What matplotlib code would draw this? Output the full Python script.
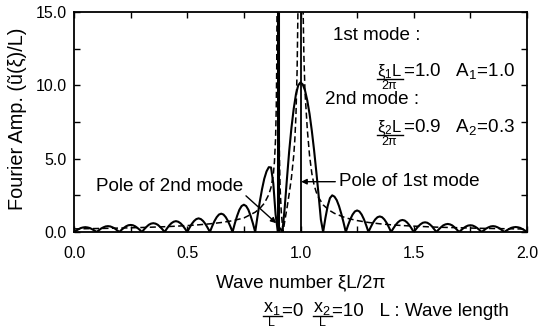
import numpy as np
import matplotlib
matplotlib.use("Agg")
import matplotlib.pyplot as plt
from matplotlib.ticker import MultipleLocator
from matplotlib.lines import Line2D

plt.rcParams['font.family'] = ['Liberation Sans', 'DejaVu Sans']
plt.rcParams['mathtext.fontset'] = 'custom'
plt.rcParams['mathtext.rm'] = 'Liberation Sans'
plt.rcParams['mathtext.it'] = 'Liberation Sans'
plt.rcParams['mathtext.bf'] = 'Liberation Sans:bold'

# ---------------- data ----------------
# solid curve: Fourier amplitude sampled every 0.01 in xi L / 2pi
solid_x = np.round(np.arange(0, 201) * 0.01, 2)
solid_y = [
    0.00, 0.10, 0.19, 0.27, 0.31, 0.33, 0.31, 0.27, 0.19, 0.10,
    0.00, 0.12, 0.24, 0.32, 0.38, 0.40, 0.38, 0.32, 0.24, 0.12,
    0.00, 0.15, 0.28, 0.39, 0.46, 0.48, 0.46, 0.39, 0.28, 0.15,
    0.00, 0.19, 0.35, 0.49, 0.57, 0.60, 0.57, 0.49, 0.35, 0.19,
    0.00, 0.23, 0.44, 0.60, 0.70, 0.74, 0.70, 0.60, 0.44, 0.23,
    0.00, 0.29, 0.55, 0.75, 0.88, 0.93, 0.88, 0.75, 0.55, 0.29,
    0.00, 0.39, 0.74, 1.01, 1.19, 1.25, 1.19, 1.01, 0.74, 0.39,
    0.00, 0.58, 1.09, 1.51, 1.77, 1.86, 1.77, 1.51, 1.09, 0.58,
    0.00, 1.05, 2.04, 2.91, 3.63, 4.13, 4.42, 4.40, 3.30, 1.20,
    0.00, 0.25, 0.00, 1.60, 3.60, 5.50, 7.10, 8.40, 9.40, 10.00,
    10.20, 10.06, 9.65, 8.96, 8.05, 6.90, 5.57, 4.08, 2.50, 0.84,
    0.00, 0.96, 1.77, 2.31, 2.50, 2.41, 2.17, 1.77, 1.25, 0.65,
    0.00, 0.46, 0.87, 1.19, 1.40, 1.47, 1.40, 1.19, 0.87, 0.46,
    0.00, 0.33, 0.63, 0.86, 1.01, 1.06, 1.01, 0.86, 0.63, 0.33,
    0.00, 0.25, 0.48, 0.66, 0.78, 0.82, 0.78, 0.66, 0.48, 0.25,
    0.00, 0.20, 0.39, 0.53, 0.63, 0.66, 0.63, 0.53, 0.39, 0.20,
    0.00, 0.17, 0.32, 0.45, 0.52, 0.55, 0.52, 0.45, 0.32, 0.17,
    0.00, 0.14, 0.27, 0.37, 0.44, 0.46, 0.44, 0.37, 0.27, 0.14,
    0.00, 0.12, 0.24, 0.32, 0.38, 0.40, 0.38, 0.32, 0.24, 0.12,
    0.00, 0.11, 0.20, 0.28, 0.32, 0.34, 0.32, 0.28, 0.20, 0.11,
    0.00,
]

# dashed curve (pole model)
dashed_x = [
    0.00, 0.05, 0.10, 0.15, 0.20, 0.25, 0.30, 0.35, 0.40, 0.45,
    0.50, 0.55, 0.60, 0.65, 0.70, 0.75, 0.80, 0.82, 0.84, 0.86,
    0.87, 0.88, 0.885, 0.89, 0.893, 0.895, 0.897,
    0.902, 0.903, 0.904, 0.905, 0.907, 0.91, 0.915, 0.92, 0.923,
    0.925, 0.93, 0.94, 0.95, 0.96, 0.97, 0.975, 0.98, 0.985, 0.99,
    1.01, 1.015, 1.02, 1.03, 1.04, 1.05, 1.06, 1.07, 1.08, 1.10,
    1.125, 1.15, 1.20, 1.25, 1.30, 1.35, 1.40, 1.45, 1.50, 1.60,
    1.70, 1.80, 1.90, 2.00,
]
dashed_y = [
    0.212, 0.224, 0.237, 0.251, 0.267, 0.286, 0.307, 0.332, 0.361, 0.396,
    0.438, 0.490, 0.557, 0.646, 0.769, 0.955, 1.35, 1.60, 1.95, 2.55,
    3.05, 3.90, 4.80, 6.40, 8.50, 11.2, 17.0,
    17.0, 14.3, 10.3, 7.9, 5.1, 3.0, 1.4, 0.5, 0.05,
    0.2, 0.7, 1.6, 2.6, 3.7, 5.2, 6.3, 8.0, 11.0, 16.5,
    16.5, 12.0, 9.5, 7.0, 5.2, 4.0, 3.2, 2.7, 2.35, 1.85,
    1.50, 1.27, 0.96, 0.78, 0.65, 0.56, 0.49, 0.44, 0.40, 0.33,
    0.29, 0.25, 0.225, 0.20,
]

poles = [0.9, 1.0]
pole_widths = [2.2, 1.3]

x_ticks = [0.0, 0.5, 1.0, 1.5, 2.0]
x_ticklabels = ["0.0", "0.5", "1.0", "1.5", "2.0"]
y_ticks = [0.0, 5.0, 10.0, 15.0]
y_ticklabels = ["0.0", "5.0", "10.0", "15.0"]

# ---------------- figure ----------------
W, H = 550, 331
fig = plt.figure(figsize=(5.5, 3.31), dpi=100)
ax = fig.add_axes([74 / W, 1 - 232 / H, 453 / W, 220 / H])

ax.plot(solid_x, solid_y, color='black', lw=1.5, solid_joinstyle='round')
ax.plot(dashed_x, dashed_y, color='black', lw=1.1, dashes=(4, 2.2))
ax.vlines(poles, 0, 15, colors='black', linewidths=pole_widths)

ax.set_xlim(0, 2)
ax.set_ylim(0, 15)
ax.set_xticks(x_ticks)
ax.set_xticklabels(x_ticklabels)
ax.set_yticks(y_ticks)
ax.set_yticklabels(y_ticklabels)
ax.xaxis.set_minor_locator(MultipleLocator(0.25))
ax.yaxis.set_minor_locator(MultipleLocator(2.5))
ax.tick_params(which='both', direction='in', top=True, right=True,
               length=4, width=1.0, labelsize=11.5)
ax.tick_params(axis='x', pad=10)
ax.tick_params(axis='y', pad=5)
for s in ax.spines.values():
    s.set_linewidth(1.3)

fs = 13.6
ax.annotate("Pole of 2nd mode", xy=(0.893, 0.6), xytext=(0.747, 3.1),
            ha='right', va='center', fontsize=fs,
            arrowprops=dict(arrowstyle='-|>', color='black', lw=1.0,
                            mutation_scale=8, relpos=(1.0, 0.1),
                            shrinkA=0, shrinkB=0))
ax.annotate("Pole of 1st mode", xy=(1.003, 3.43), xytext=(1.172, 3.43),
            ha='left', va='center', fontsize=fs,
            arrowprops=dict(arrowstyle='-|>', color='black', lw=1.0,
                            mutation_scale=8, relpos=(0.0, 0.5),
                            shrinkA=1, shrinkB=0))

ax.text(1.143, 13.43, "1st mode :", ha='left', va='center', fontsize=fs)
ax.text(1.108, 9.0, "2nd mode :", ha='left', va='center', fontsize=fs)

renderer = fig.canvas.get_renderer()
scale = W / fig.bbox.width


def ptext(x, y, s, **kw):
    return fig.text(x / W, 1 - y / H, s, **kw)


def extent(t):
    bb = t.get_window_extent(renderer=renderer)
    return bb.x0 * scale, bb.x1 * scale


def bar(x0, x1, y):
    fig.add_artist(Line2D([x0 / W, x1 / W], [1 - y / H, 1 - y / H],
                          transform=fig.transFigure, color='black', lw=1.0))


def frac_right(num, den, rest, xr, base):
    """fraction num/den followed by rest, right-aligned at pixel xr."""
    t = ptext(xr, base, rest, ha='right', va='baseline', fontsize=fs)
    x0, _ = extent(t)
    n = ptext(x0 - 1, base, num, ha='right', va='baseline', fontsize=12)
    n0, n1 = extent(n)
    bar(n0, n1 + 1, base + 3)
    ptext((n0 + n1) / 2, base + 4.5, den, ha='center', va='top', fontsize=9)


frac_right("ξ$_1$L", "2π", "=1.0   A$_1$=1.0", 515, 75.5)
frac_right("ξ$_2$L", "2π", "=0.9   A$_2$=0.3", 515, 132)

# bottom line: x1/L=0  x2/L=10  L : Wave length
xpos = 263
nbase = 312
rbase = 316
for num, rest in [("x$_1$", "=0  "), ("x$_2$", "=10   L : Wave length")]:
    n = ptext(xpos, nbase, num, ha='left', va='baseline', fontsize=13)
    n0, n1 = extent(n)
    bar(n0, n1 + 1, nbase + 3.5)
    ptext((n0 + n1) / 2, nbase + 4.5, "L", ha='center', va='top', fontsize=9)
    t = ptext(n1 + 1, rbase, rest, ha='left', va='baseline', fontsize=fs)
    _, xpos = extent(t)

fig.text(300.5 / W, 1 - 283 / H, "Wave number ξL/2π",
         ha='center', va='center', fontsize=fs)
fig.text(18 / W, 1 - 119 / H, "Fourier Amp. (ũ(ξ)/L)", rotation=90,
         ha='center', va='center', fontsize=14.3)

fig.savefig("out.png", dpi=100)
